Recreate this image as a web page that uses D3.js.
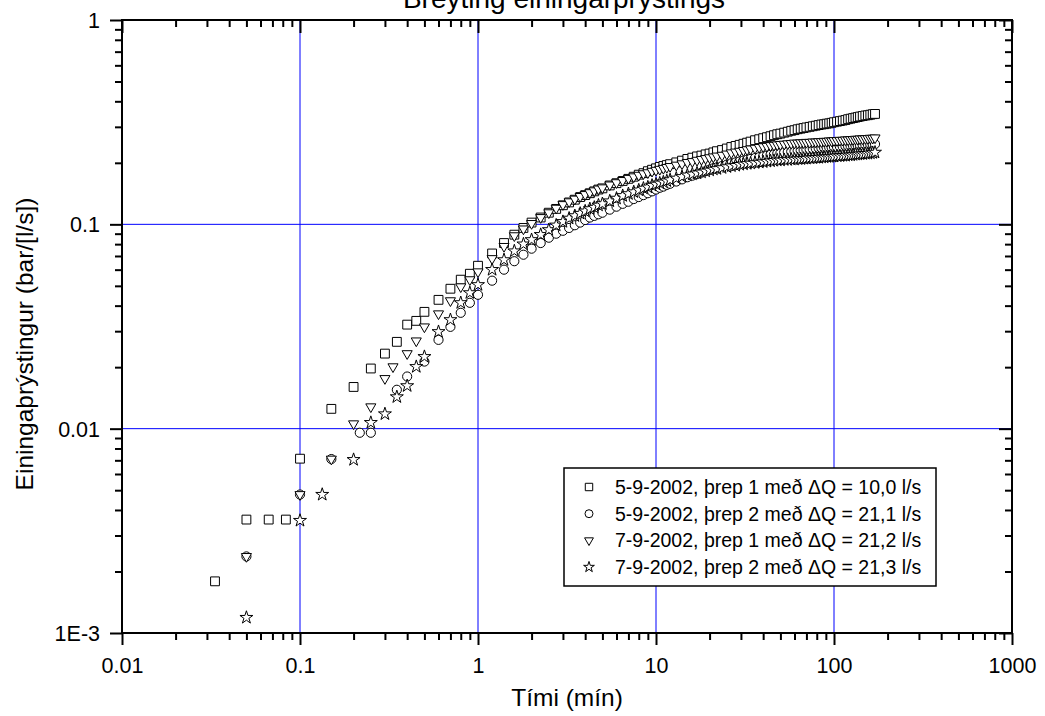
<!DOCTYPE html>
<html>
<head>
<meta charset="utf-8">
<script src="https://cdn.jsdelivr.net/npm/d3@7/dist/d3.min.js"></script>
<style>
  body { margin: 0; background: #fff; }
  text { font-family: Arial, 'Liberation Sans', sans-serif; fill: #000; }
</style>
</head>
<body>
<script>
// tick labels
let xTicks = [0.01, 0.1, 1, 10, 100, 1000]
let xTickLabels = ['0.01', '0.1', '1', '10', '100', '1000']
let yTicks = [0.001, 0.01, 0.1, 1]
let yTickLabels = ['1E-3', '0.01', '0.1', '1']

let seriesNames = [
  '5-9-2002, þrep 1 með ΔQ = 10,0 l/s',
  '5-9-2002, þrep 2 með ΔQ = 21,1 l/s',
  '7-9-2002, þrep 1 með ΔQ = 21,2 l/s',
  '7-9-2002, þrep 2 með ΔQ = 21,3 l/s'
]

// first minute, each step has its own readings (min, bar/[l/s])
let sqTimeEarly = [0.0333, 0.05, 0.0667, 0.0833, 0.1, 0.15, 0.2, 0.25, 0.3, 0.35, 0.4, 0.45, 0.5, 0.6, 0.7, 0.8, 0.9, 1.0]
let sqEarly = [0.00179, 0.00359, 0.00359, 0.00359, 0.00713, 0.0125, 0.0160, 0.0197, 0.0233, 0.0266, 0.0323, 0.0337, 0.0373, 0.0427, 0.0484, 0.0536, 0.0573, 0.0627]

let ciTimeEarly = [0.05, 0.1, 0.15, 0.2167, 0.25, 0.35, 0.4, 0.5, 0.6, 0.7, 0.8, 0.9, 1.0]
let ciEarly = [0.00237, 0.00476, 0.0071, 0.00955, 0.00955, 0.0155, 0.0180, 0.0213, 0.0272, 0.0315, 0.0369, 0.0413, 0.0452]

let trTimeEarly = [0.05, 0.1, 0.15, 0.2, 0.25, 0.3, 0.333, 0.4, 0.45, 0.5, 0.6, 0.7, 0.8, 0.9, 1.0]
let trEarly = [0.00237, 0.00476, 0.0071, 0.01057, 0.0128, 0.0176, 0.0201, 0.0233, 0.0269, 0.0315, 0.0365, 0.0423, 0.0495, 0.0536, 0.0586]

let stTimeEarly = [0.05, 0.1, 0.1333, 0.2, 0.25, 0.3, 0.35, 0.4, 0.45, 0.5, 0.6, 0.7, 0.8, 0.9, 1.0]
let stEarly = [0.00119, 0.00355, 0.00476, 0.00705, 0.0107, 0.0118, 0.0143, 0.0162, 0.0201, 0.0225, 0.0298, 0.0341, 0.0413, 0.0462, 0.0506]

// after the first minute all four were logged at the same times
let lateTimes = [
  1.2, 1.4, 1.6, 1.8, 2, 2.25, 2.5, 2.75,
  3, 3.25, 3.5, 3.75, 4, 4.25, 4.5, 4.75,
  5, 5.5, 6, 6.5, 7, 7.5, 8, 8.5, 9, 9.5,
  10, 10.5, 11, 11.5, 12,
  13, 14, 15, 16, 17, 18, 19, 20, 21, 22,
  23.5, 25, 26.5, 28, 29.5, 31, 32.5, 34,
  36, 38, 40, 42, 44, 46, 48, 50,
  52.5, 55, 57.5, 60, 62.5, 65, 67.5, 70,
  73, 76, 79, 82, 85, 88, 91, 94, 97, 100,
  104, 108, 112, 116, 120, 124, 128, 132, 136, 140,
  145, 150, 155, 160, 165, 170
]
let sqLate = [
  0.072, 0.081, 0.089, 0.096, 0.102, 0.108, 0.114, 0.119,
  0.124, 0.128, 0.132, 0.136, 0.139, 0.142, 0.145, 0.148,
  0.150, 0.155, 0.159, 0.163, 0.167, 0.171, 0.175, 0.178, 0.182, 0.185,
  0.188, 0.191, 0.193, 0.195, 0.197,
  0.201, 0.205, 0.209, 0.212, 0.215, 0.217, 0.220, 0.222, 0.225, 0.228,
  0.231, 0.235, 0.239, 0.242, 0.245, 0.248, 0.251, 0.254,
  0.258, 0.261, 0.264, 0.267, 0.270, 0.273, 0.276, 0.278,
  0.281, 0.284, 0.287, 0.289, 0.292, 0.294, 0.296, 0.298,
  0.300, 0.302, 0.304, 0.306, 0.308, 0.309, 0.311, 0.312, 0.314, 0.316,
  0.318, 0.320, 0.322, 0.324, 0.327, 0.329, 0.331, 0.333, 0.335, 0.337,
  0.339, 0.341, 0.342, 0.344, 0.346, 0.347
]
let ciLate = [
  0.053, 0.060, 0.066, 0.071, 0.076, 0.081, 0.086, 0.090,
  0.093, 0.096, 0.099, 0.102, 0.105, 0.108, 0.110, 0.112,
  0.114, 0.118, 0.122, 0.126, 0.129, 0.133, 0.136, 0.139, 0.142, 0.145,
  0.148, 0.151, 0.153, 0.156, 0.158,
  0.162, 0.166, 0.170, 0.173, 0.176, 0.179, 0.182, 0.185, 0.188, 0.190,
  0.193, 0.196, 0.199, 0.201, 0.203, 0.205, 0.207, 0.209,
  0.211, 0.213, 0.215, 0.217, 0.219, 0.220, 0.222, 0.223,
  0.225, 0.226, 0.227, 0.228, 0.229, 0.230, 0.231, 0.232,
  0.233, 0.234, 0.235, 0.236, 0.236, 0.237, 0.237, 0.238, 0.238, 0.239,
  0.239, 0.240, 0.240, 0.241, 0.241, 0.242, 0.242, 0.243, 0.243, 0.244,
  0.244, 0.245, 0.245, 0.246, 0.246, 0.247
]
let trLate = [
  0.068, 0.078, 0.088, 0.095, 0.101, 0.108, 0.114, 0.120,
  0.125, 0.129, 0.133, 0.137, 0.140, 0.143, 0.146, 0.149,
  0.151, 0.156, 0.160, 0.164, 0.168, 0.171, 0.174, 0.177, 0.179, 0.182,
  0.184, 0.186, 0.188, 0.190, 0.192,
  0.195, 0.198, 0.201, 0.203, 0.206, 0.208, 0.210, 0.212, 0.214, 0.216,
  0.218, 0.221, 0.224, 0.226, 0.228, 0.230, 0.232, 0.234,
  0.236, 0.238, 0.240, 0.241, 0.243, 0.244, 0.245, 0.246,
  0.247, 0.248, 0.249, 0.250, 0.250, 0.251, 0.251, 0.252,
  0.252, 0.253, 0.253, 0.254, 0.254, 0.255, 0.255, 0.256, 0.256, 0.257,
  0.257, 0.258, 0.258, 0.259, 0.259, 0.260, 0.260, 0.261, 0.261, 0.262,
  0.262, 0.263, 0.263, 0.264, 0.264, 0.265
]
let stLate = [
  0.060, 0.067, 0.074, 0.080, 0.084, 0.089, 0.094, 0.099,
  0.103, 0.107, 0.110, 0.113, 0.116, 0.119, 0.121, 0.124,
  0.126, 0.130, 0.134, 0.138, 0.141, 0.144, 0.147, 0.150, 0.152, 0.155,
  0.157, 0.159, 0.161, 0.163, 0.165,
  0.168, 0.171, 0.174, 0.176, 0.178, 0.180, 0.182, 0.184, 0.186, 0.187,
  0.189, 0.191, 0.193, 0.194, 0.196, 0.197, 0.198, 0.199,
  0.200, 0.201, 0.202, 0.203, 0.204, 0.205, 0.206, 0.206,
  0.207, 0.207, 0.208, 0.208, 0.209, 0.209, 0.210, 0.210,
  0.211, 0.211, 0.212, 0.212, 0.213, 0.213, 0.214, 0.214, 0.215, 0.215,
  0.216, 0.216, 0.217, 0.217, 0.218, 0.218, 0.219, 0.220, 0.220, 0.221,
  0.221, 0.222, 0.222, 0.223, 0.224, 0.225
]

let margin = { top: 20, right: 33, bottom: 83, left: 122 }
let width = 1045 - margin.left - margin.right
let height = 716 - margin.top - margin.bottom

let x = d3.scaleLog().domain([0.01, 1000]).range([0, width])
let y = d3.scaleLog().domain([0.001, 1]).range([height, 0])

//minor ticks 2..9 in each decade
let minorX = [], minorY = []
xTicks.slice(0, -1).forEach(d => { for (let k = 2; k < 10; k++) minorX.push(d * k) })
yTicks.slice(0, -1).forEach(d => { for (let k = 2; k < 10; k++) minorY.push(d * k) })

let series = [
  { name: seriesNames[0], t: sqTimeEarly.concat(lateTimes), p: sqEarly.concat(sqLate), type: d3.symbolSquare, size: 78, legendSize: 55, rot: 0 },
  { name: seriesNames[1], t: ciTimeEarly.concat(lateTimes), p: ciEarly.concat(ciLate), type: d3.symbolCircle, size: 66, legendSize: 50, rot: 0 },
  { name: seriesNames[2], t: trTimeEarly.concat(lateTimes), p: trEarly.concat(trLate), type: d3.symbolTriangle, size: 44, legendSize: 34, rot: 180 },
  { name: seriesNames[3], t: stTimeEarly.concat(lateTimes), p: stEarly.concat(stLate), type: d3.symbolStar, size: 52, legendSize: 36, rot: 0 }
]

let svgRoot = d3.select('body')
  .append('svg')
  .attr('width', 1045)
  .attr('height', 716)

let svg = svgRoot.append('g')
  .attr('transform', 'translate(' + margin.left + ',' + margin.top + ')')

//title, cut at the top as in the original
svgRoot.append('text')
  .attr('x', 564)
  .attr('y', 7.5)
  .attr('text-anchor', 'middle')
  .style('font-size', '28px')
  .text('Breyting einingarþrýstings')

//grid
svg.append('g')
  .selectAll('line')
  .data([0.1, 1, 10, 100])
  .enter()
  .append('line')
  .attr('x1', d => x(d)).attr('x2', d => x(d))
  .attr('y1', 0).attr('y2', height)
  .attr('stroke', '#0000ff')
  .attr('stroke-width', 1)

svg.append('g')
  .selectAll('line')
  .data([0.01, 0.1])
  .enter()
  .append('line')
  .attr('y1', d => y(d)).attr('y2', d => y(d))
  .attr('x1', 0).attr('x2', width)
  .attr('stroke', '#0000ff')
  .attr('stroke-width', 1)

//axes
let styleAxis = g => {
  g.select('.domain').remove()
  g.selectAll('line').attr('stroke', '#000').attr('stroke-width', 2)
}

svg.append('g')
  .attr('transform', 'translate(0,' + height + ')')
  .call(d3.axisBottom(x).tickValues(xTicks).tickSize(12).tickFormat((d, i) => xTickLabels[i]))
  .call(styleAxis)
  .call(g => g.selectAll('text').attr('y', 40).attr('dy', 0).style('font-size', '21.5px'))

svg.append('g')
  .attr('transform', 'translate(0,' + height + ')')
  .call(d3.axisBottom(x).tickValues(minorX).tickSize(7).tickFormat(''))
  .call(styleAxis)

svg.append('g')
  .call(d3.axisLeft(y).tickValues(yTicks).tickSize(12).tickFormat((d, i) => yTickLabels[i]))
  .call(styleAxis)
  .call(g => g.selectAll('text').attr('x', -22).attr('dy', '0.35em').style('font-size', '21.5px'))

svg.append('g')
  .call(d3.axisLeft(y).tickValues(minorY).tickSize(7).tickFormat(''))
  .call(styleAxis)

//mirror axes with ticks pointing in
svg.append('g')
  .call(d3.axisTop(x).tickValues(xTicks).tickSize(-13).tickFormat(''))
  .call(styleAxis)
svg.append('g')
  .call(d3.axisTop(x).tickValues(minorX).tickSize(-7).tickFormat(''))
  .call(styleAxis)
svg.append('g')
  .attr('transform', 'translate(' + width + ',0)')
  .call(d3.axisRight(y).tickValues(yTicks).tickSize(-13).tickFormat(''))
  .call(styleAxis)
svg.append('g')
  .attr('transform', 'translate(' + width + ',0)')
  .call(d3.axisRight(y).tickValues(minorY).tickSize(-7).tickFormat(''))
  .call(styleAxis)

//frame
svg.append('rect')
  .attr('width', width)
  .attr('height', height)
  .attr('fill', 'none')
  .attr('stroke', '#000')
  .attr('stroke-width', 2)

//axis titles
svgRoot.append('text')
  .attr('x', margin.left + width / 2)
  .attr('y', 706)
  .attr('text-anchor', 'middle')
  .style('font-size', '24.5px')
  .text('Tími (mín)')

svgRoot.append('text')
  .attr('transform', 'translate(33,344) rotate(-90)')
  .attr('text-anchor', 'middle')
  .style('font-size', '24.5px')
  .text('Einingaþrýstingur (bar/[l/s])')

//markers
series.forEach(s => {
  let sym = d3.symbol().type(s.type).size(s.size)
  svg.append('g')
    .selectAll('path')
    .data(d3.zip(s.t, s.p))
    .enter()
    .append('path')
    .attr('d', sym)
    .attr('transform', d => 'translate(' + x(d[0]) + ',' + y(d[1]) + ') rotate(' + s.rot + ')')
    .attr('fill', '#fff')
    .attr('stroke', '#000')
    .attr('stroke-width', 1)
})

//legend
let legend = svgRoot.append('g')
  .attr('transform', 'translate(564,468)')

legend.append('rect')
  .attr('width', 372)
  .attr('height', 118)
  .attr('fill', '#fff')
  .attr('stroke', '#000')
  .attr('stroke-width', 1.5)

let rows = legend.selectAll('g.row')
  .data(series)
  .enter()
  .append('g')
  .attr('transform', (d, i) => 'translate(0,' + (19 + i * 26.7) + ')')

rows.append('path')
  .attr('d', d => d3.symbol().type(d.type).size(d.legendSize)())
  .attr('transform', d => 'translate(25,0) rotate(' + d.rot + ')')
  .attr('fill', '#fff')
  .attr('stroke', '#000')
  .attr('stroke-width', 1)

rows.append('text')
  .attr('x', 51)
  .attr('dy', '0.35em')
  .style('font-size', '19.5px')
  .text(d => d.name)
</script>
</body>
</html>
